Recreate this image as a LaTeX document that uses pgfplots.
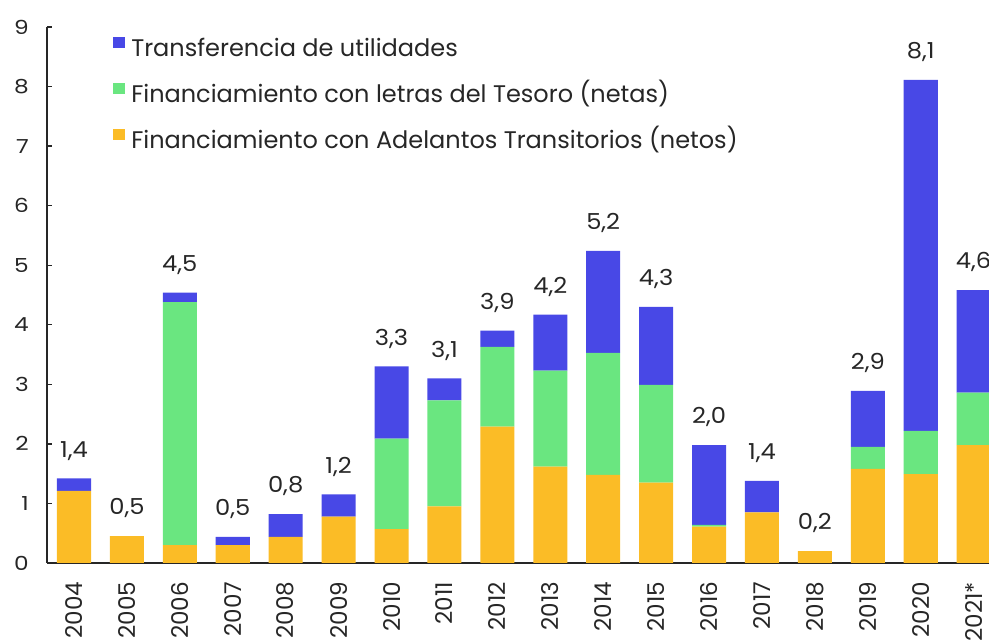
\documentclass[border=0pt]{standalone}
\usepackage{fontspec}
\setmainfont{Poppins}
\newfontfamily\yearfont{Poppins}
\newfontfamily\tickfont{Poppins}[FakeStretch=1.2]
\newfontfamily\valfont{Poppins}[FakeStretch=1.1]
\usepackage{pgfplots}
\pgfplotsset{compat=1.18}
\usepackage{pgfplotstable}

\definecolor{cblue}{HTML}{4848E6}
\definecolor{cgreen}{HTML}{6AE680}
\definecolor{corange}{HTML}{FBBC26}
\definecolor{ctext}{HTML}{262626}

\pgfplotstableread{
x orange green blue total label
0 1.21 0.00 0.21 1.42 1,4
1 0.45 0.00 0.00 0.45 0,5
2 0.30 4.08 0.16 4.54 4,5
3 0.30 0.00 0.14 0.44 0,5
4 0.44 0.00 0.38 0.82 0,8
5 0.78 0.00 0.37 1.15 1,2
6 0.57 1.52 1.21 3.30 3,3
7 0.95 1.78 0.37 3.10 3,1
8 2.29 1.34 0.27 3.90 3,9
9 1.62 1.61 0.94 4.17 4,2
10 1.48 2.05 1.71 5.24 5,2
11 1.35 1.64 1.31 4.30 4,3
12 0.61 0.03 1.34 1.98 2,0
13 0.85 0.00 0.53 1.38 1,4
14 0.20 0.00 0.00 0.20 0,2
15 1.58 0.37 0.94 2.89 2,9
16 1.49 0.73 5.89 8.11 8,1
17 1.98 0.88 1.72 4.58 4,6
}\data

\pgfplotsset{common/.style={
  at={(0,0)}, anchor=south west,
  scale only axis, width=706.5pt, height=402pt,
  xmin=-0.51, xmax=17.29, ymin=0, ymax=9,
  clip=false}}

\begin{document}
\begin{tikzpicture}
\begin{axis}[
  common, name=ax,
  ybar stacked, bar width=0.643,
  axis x line*=bottom, axis y line*=left,
  axis line style={line width=1.3pt, ctext},
  ytick={0,1,...,9},
  xtick={0,1,...,17},
  xticklabels={2004,2005,2006,2007,2008,2009,2010,2011,2012,2013,2014,2015,2016,2017,2018,2019,2020,2021*},
  xtick style={draw=none},
  ytick style={line width=1pt, ctext},
  major tick length=4pt,
  tick align=inside,
  /pgf/number format/assume math mode=true,
  yticklabel style={font=\tickfont\fontsize{14.5}{14.5}\selectfont, text=ctext, anchor=east, inner sep=0pt},
  yticklabel shift=13.5pt,
  xticklabel style={rotate=90, anchor=east, font=\yearfont\fontsize{17.3}{17.3}\selectfont, text=ctext, inner sep=0pt},
  xticklabel shift=14pt,
  legend image code/.code={\fill[#1,draw=none] (0pt,1.2pt) rectangle (9pt,9.5pt);},
  reverse legend,
  legend cell align=left,
  legend style={draw=none, fill=none, at={(0.0701,0.982)}, anchor=north west,
    font=\fontsize{18}{18}\selectfont, text=ctext, inner sep=0pt,
    row sep=16.1pt, column sep=4.5pt,
    nodes={inner sep=0pt, text height=14pt, text depth=4pt}},
]
\addplot[fill=corange, draw=none] table[x=x, y=orange]{\data};
\addlegendentry{Financiamiento con Adelantos Transitorios (netos)}
\addplot[fill=cgreen, draw=none] table[x=x, y=green]{\data};
\addlegendentry{Financiamiento con letras del Tesoro (netas)}
\addplot[fill=cblue, draw=none] table[x=x, y=blue]{\data};
\addlegendentry{Transferencia de utilidades}
\end{axis}
\begin{axis}[common, hide axis]
\addplot[draw=none, mark=none, nodes near coords, point meta=explicit symbolic,
  every node near coord/.append style={anchor=base, yshift=16pt, font=\valfont\fontsize{16.5}{16.5}\selectfont, text=ctext, inner sep=0pt}]
  table[x=x, y=total, meta=label]{\data};
\end{axis}
\pgfresetboundingbox
\path[use as bounding box] ([shift={(-35.25pt,-58.5pt)}]ax.south west) rectangle ([shift={(0pt,20.25pt)}]ax.north east);
\end{tikzpicture}
\end{document}
